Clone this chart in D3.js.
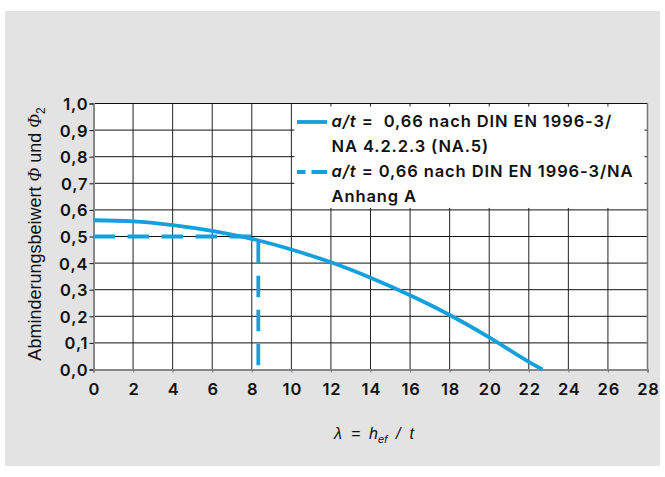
<html>
<head>
    <meta charset="utf-8">
    <title>Abminderungsbeiwert</title>
    <script src="https://cdn.jsdelivr.net/npm/d3@7"></script>
    <style>
        body { margin: 0; background: #fff; }
    </style>
</head>
<body>
<svg id="chart"></svg>
<script>
    // values
    const lambdaSolid = [0, 2, 4, 6, 8, 10, 12, 14, 16, 18, 20, 22, 22.7];
    const phiSolid = [0.561, 0.557, 0.543, 0.521, 0.491, 0.451, 0.403, 0.345, 0.279, 0.205, 0.121, 0.029, 0.0];
    const lambdaDashed = [0, 8.33, 8.33];
    const phiDashed = [0.5, 0.5, 0.0];
    const xTicks = [0, 2, 4, 6, 8, 10, 12, 14, 16, 18, 20, 22, 24, 26, 28];
    const yTicks = [0, 0.1, 0.2, 0.3, 0.4, 0.5, 0.6, 0.7, 0.8, 0.9, 1.0];
    const legendLabels = [
        ["a/t =  0,66 nach DIN EN 1996-3/", "NA 4.2.2.3 (NA.5)"],
        ["a/t = 0,66 nach DIN EN 1996-3/NA", "Anhang A"]
    ];

    const W = 665, H = 477;
    const blue = '#14a0dc';
    const svg = d3.select('#chart').attr('width', W).attr('height', H);

    svg.append('rect').attr('x', 5).attr('y', 11).attr('width', 655).attr('height', 455).attr('fill', '#e2e3e2');

    const x = d3.scaleLinear().domain([0, 28]).range([93.5, 647.5]);
    const y = d3.scaleLinear().domain([0, 1]).range([369.5, 103.5]);

    svg.append('rect')
        .attr('x', x(0)).attr('y', y(1))
        .attr('width', x(28) - x(0)).attr('height', y(0) - y(1))
        .attr('fill', '#fff');

    // grid
    svg.append('g').selectAll('line').data(yTicks.slice(1)).join('line')
        .attr('x1', x(0)).attr('x2', x(28))
        .attr('y1', d => y(d)).attr('y2', d => y(d))
        .attr('stroke', '#111').attr('stroke-width', 1);
    svg.append('g').selectAll('line').data(xTicks.slice(1)).join('line')
        .attr('x1', d => x(d)).attr('x2', d => x(d))
        .attr('y1', y(0)).attr('y2', y(1))
        .attr('stroke', d => d === 28 ? '#777' : '#222').attr('stroke-width', d => d === 28 ? 1.5 : 1);

    // legend box covering the grid (grid edges remain as border)
    svg.append('rect')
        .attr('x', x(10) + 3).attr('y', y(1) + 3)
        .attr('width', x(28) - x(10) - 6).attr('height', y(0.6) - y(1) - 5)
        .attr('fill', '#fff');

    const labelFont = g => g.style('font-family', 'Inter, sans-serif').style('font-weight', 600)
        .style('font-size', '16.5px').style('letter-spacing', '0.9px').attr('fill', '#111');

    // axes
    const yAxis = d3.axisLeft(y).tickValues(yTicks).tickSize(4)
        .tickFormat(d => d3.format('.1f')(d).replace('.', ','));
    const gy = svg.append('g').attr('transform', `translate(${x(0)},0)`).call(yAxis);
    gy.select('.domain').attr('stroke', '#888').attr('stroke-width', 2);
    gy.selectAll('.tick line').attr('stroke', '#111');
    gy.selectAll('.tick text').attr('x', -5).attr('dy', '0.36em').call(labelFont);

    const xAxis = d3.axisBottom(x).tickValues(xTicks).tickSize(3).tickFormat(d3.format('d'));
    const gx = svg.append('g').attr('transform', `translate(0,${y(0)})`).call(xAxis);
    gx.select('.domain').attr('stroke', '#888').attr('stroke-width', 2);
    gx.selectAll('.tick line').attr('stroke', '#777');
    gx.selectAll('.tick text').attr('y', 14).attr('dy', '0.71em').attr('dx', 0.5).call(labelFont);

    // curves
    const solidData = lambdaSolid.map((l, i) => [l, phiSolid[i]]);
    const dashedData = lambdaDashed.map((l, i) => [l, phiDashed[i]]);
    const line = d3.line().x(d => x(d[0])).y(d => y(d[1]));

    svg.append('path')
        .attr('d', line.curve(d3.curveMonotoneX)(solidData))
        .attr('fill', 'none').attr('stroke', blue).attr('stroke-width', 3.8);
    svg.append('path')
        .attr('d', line.curve(d3.curveLinear)(dashedData))
        .attr('fill', 'none').attr('stroke', blue).attr('stroke-width', 3.8)
        .attr('stroke-dasharray', '21.5,12.5');

    // legend
    const lg = svg.append('g').call(labelFont);
    const rows = [122, 172];
    rows.forEach((ry, i) => {
        lg.append('line').attr('x1', 297).attr('x2', 327).attr('y1', ry).attr('y2', ry)
            .attr('stroke', blue).attr('stroke-width', 3.8)
            .attr('stroke-dasharray', i === 0 ? null : '8.5,6,16');
        legendLabels[i].forEach((txt, j) => {
            const t = lg.append('text').attr('x', 331.5).attr('y', ry + 5 + j * 25);
            if (j === 0) {
                t.append('tspan').attr('font-style', 'italic').text('a/t');
                t.append('tspan').attr('xml:space', 'preserve').text(txt.slice(3));
            } else {
                t.text(txt);
            }
        });
    });

    // axis titles
    const yt = svg.append('text')
        .attr('transform', 'translate(41,234) rotate(-90)')
        .attr('text-anchor', 'middle')
        .style('font-family', '"Liberation Sans", Arial, sans-serif').style('font-size', '18px').attr('fill', '#111');
    yt.append('tspan').text('Abminderungsbeiwert ');
    yt.append('tspan').style('font-family', '"Liberation Serif", serif').style('font-style', 'italic').text('Φ');
    yt.append('tspan').text(' und ');
    yt.append('tspan').style('font-family', '"Liberation Serif", serif').style('font-style', 'italic').text('Φ');
    yt.append('tspan').attr('dy', 4).style('font-size', '12px').text('2');

    const xt = svg.append('text')
        .attr('x', 374).attr('y', 439).attr('text-anchor', 'middle')
        .style('font-family', '"Liberation Sans", Arial, sans-serif').style('font-size', '16px')
        .style('font-style', 'italic').attr('fill', '#111');
    xt.append('tspan').attr('xml:space', 'preserve').text('λ  =  h');
    xt.append('tspan').attr('dy', 4).style('font-size', '11px').text('ef');
    xt.append('tspan').attr('dy', -4).attr('xml:space', 'preserve').text('  /  t');
</script>
</body>
</html>
